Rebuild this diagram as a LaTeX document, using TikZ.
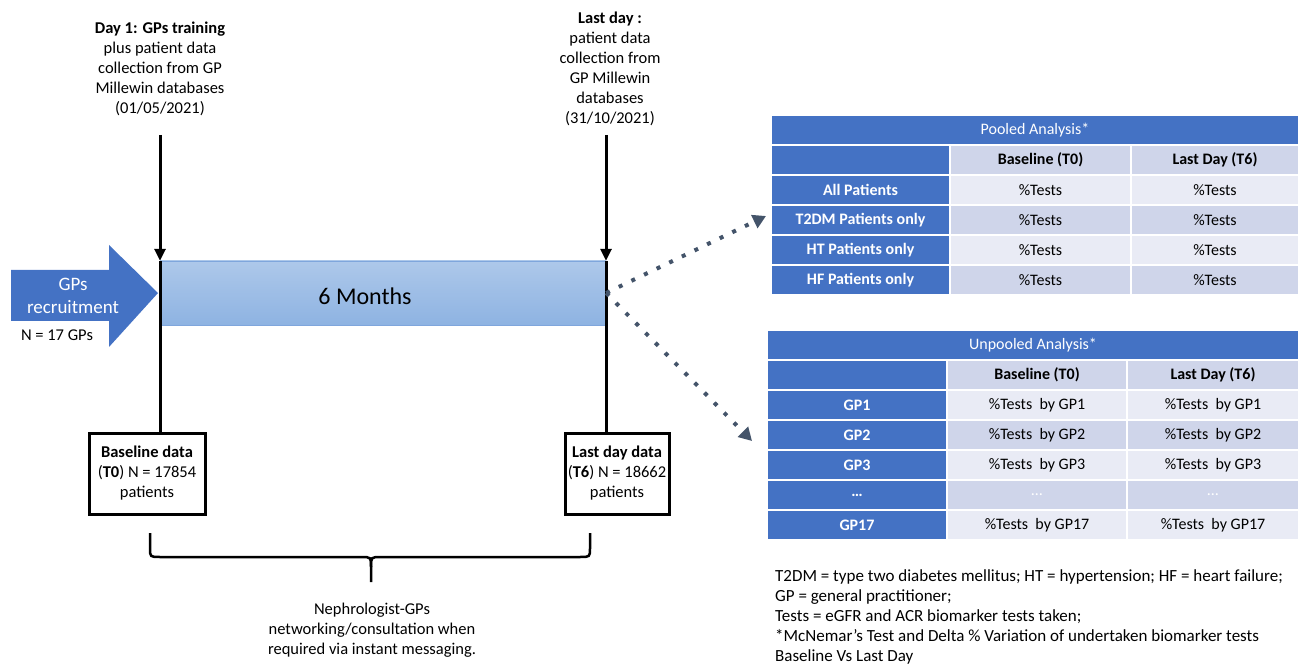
\documentclass[tikz,border=0pt]{standalone}
\usepackage{fontspec}
\setmainfont{Carlito}
\usetikzlibrary{arrows.meta}

\definecolor{gpblue}{HTML}{4472C4}
\definecolor{rowdark}{HTML}{CFD5EA}
\definecolor{rowlight}{HTML}{E9EBF5}
\definecolor{dotgrey}{HTML}{44546A}
\definecolor{bartop}{HTML}{ADC8EA}
\definecolor{barbottom}{HTML}{8EB3E2}
\definecolor{barline}{HTML}{7FA6DC}

\begin{document}
\begin{tikzpicture}[x=1pt,y=-1pt,
      every node/.style={
        inner sep=0pt,
        align=center,
        font=\fontsize{16.5}{20}\selectfont  % body text size
      },
      timeline/.style={line width=3pt},
      datebox/.style={draw, line width=3pt, minimum height=81pt},
      monthbar/.style={draw=barline, thin, top color=bartop, bottom color=barbottom,
        minimum width=446pt, minimum height=64pt},
      dotline/.style={dotgrey, line width=4pt, dash pattern=on 4pt off 10pt,
        -{Triangle[length=13pt,width=14pt]}},
      cell/.style={draw=white, line width=2pt, minimum height=30pt,
        font=\fontsize{16}{19}\selectfont},
      bluecell/.style={cell, fill=gpblue, text=white,
        font=\bfseries\fontsize{16}{19}\selectfont},
      headcell/.style={cell, fill=rowdark, font=\bfseries\fontsize{16}{19}\selectfont}
    ]
    \useasboundingbox (0,0) rectangle (1299,668);

    % recruitment arrow
    \fill[gpblue] (11,270) -- (109,270) -- (109,245) -- (158,293)
      -- (109,347) -- (109,321) -- (11,321) -- cycle;
    \node[text=white, font=\fontsize{19}{23}\selectfont] (recruit) at (73,296) {GPs\\recruitment};
    \node (ngps) at (57,335) {N = 17 GPs};

    % six months bar
    \node[monthbar] (bar) at (383,293) {};
    \node[font=\fontsize{24}{28}\selectfont] (months) at (365,296) {6 Months};

    % time points
    \node (day1) at (160,69) {\textbf{Day 1: GPs training}\\plus patient data\\collection from GP\\Millewin databases\\(01/05/2021)};
    \node (lastday) at (610,69) {\textbf{Last day :}\\patient data\\collection from\\GP Millewin\\databases\\(31/10/2021)};
    \coordinate (d1top) at (160,135);
    \coordinate (d6top) at (606,135);

    \node[datebox, minimum width=116pt] (t0box) at (147,473.5)
      {\textbf{Baseline data}\\(\textbf{T0}) N = 17854\\patients};
    \node[datebox, minimum width=104pt] (t6box) at (617,473.5)
      {\textbf{Last day data}\\(\textbf{T6}) N = 18662\\patients};

    \draw[timeline, -{Triangle[length=12pt,width=11pt]}] (d1top) -- (d1top |- bar.north);
    \draw[timeline] (d1top |- bar.north) -- (d1top |- t0box.north);
    \draw[timeline, -{Triangle[length=12pt,width=11pt]}] (d6top) -- (d6top |- bar.north);
    \draw[timeline] (d6top |- bar.north) -- (d6top |- t6box.north);

    % brace under the period
    \draw[line width=2.5pt] (150,533) -- (150,548) .. controls (150,557) .. (160,557)
      -- (361,557) .. controls (371,557) .. (371,567) -- (371,582);
    \draw[line width=2.5pt] (590,533) -- (590,548) .. controls (590,557) .. (580,557)
      -- (381,557) .. controls (371,557) .. (371,567);
    \node (network) at (372,630) {Nephrologist-GPs\\networking/consultation when\\required via instant messaging.};

    % dotted links to the tables
    \coordinate (pooltip) at (766,216);
    \coordinate (unpooltip) at (752,441);
    \draw[dotline] (bar.east) -- (pooltip);
    \draw[dotline] (bar.east) -- (unpooltip);

    % pooled analysis
    \node[bluecell, minimum width=528pt] (pooltitle) at (1035,130) {\mdseries Pooled Analysis*};
    \node[bluecell, minimum width=179pt] (ph0) at (860.5,160) {};
    \node[headcell, minimum width=181pt] (ph1) at (1040.5,160) {Baseline (T0)};
    \node[headcell, minimum width=168pt] (ph2) at (1215,160) {Last Day (T6)};
    \foreach \lab/\fil [count=\i] in {All Patients/rowlight, T2DM Patients only/rowdark,
        HT Patients only/rowlight, HF Patients only/rowdark} {
      \pgfmathsetmacro\yy{160+30*\i}
      \node[bluecell, minimum width=179pt] (pr\i) at (860.5,\yy) {\lab};
      \node[cell, fill=\fil, minimum width=181pt] (pb\i) at (1040.5,\yy) {\%Tests};
      \node[cell, fill=\fil, minimum width=168pt] (pl\i) at (1215,\yy) {\%Tests};
    }

    % unpooled analysis
    \node[bluecell, minimum width=532pt] (unpooltitle) at (1033,345) {\mdseries Unpooled Analysis*};
    \node[bluecell, minimum width=180pt] (uh0) at (857,375) {};
    \node[headcell, minimum width=180pt] (uh1) at (1037,375) {Baseline (T0)};
    \node[headcell, minimum width=172pt] (uh2) at (1213,375) {Last Day (T6)};
    \foreach \lab/\val/\fil [count=\i] in {GP1/\%Tests\ \ by GP1/rowlight,
        GP2/\%Tests\ \ by GP2/rowdark, GP3/\%Tests\ \ by GP3/rowlight,
        {\ldots}/{\textcolor{white}{\ldots}}/rowdark, GP17/\%Tests\ \ by GP17/rowlight} {
      \pgfmathsetmacro\yy{375+30*\i}
      \node[bluecell, minimum width=180pt] (ur\i) at (857,\yy) {\lab};
      \node[cell, fill=\fil, minimum width=180pt] (ub\i) at (1037,\yy) {\val};
      \node[cell, fill=\fil, minimum width=172pt] (ul\i) at (1213,\yy) {\val};
    }

    % legend
    \node[anchor=north west, align=left, font=\fontsize{17}{20}\selectfont] (notes) at (775,569)
      {T2DM = type two diabetes mellitus; HT = hypertension; HF = heart failure;\\
       GP = general practitioner;\\
       Tests = eGFR and ACR biomarker tests taken;\\
       *McNemar’s Test and Delta \% Variation of undertaken biomarker tests\\
       Baseline Vs Last Day};
\end{tikzpicture}
\end{document}
